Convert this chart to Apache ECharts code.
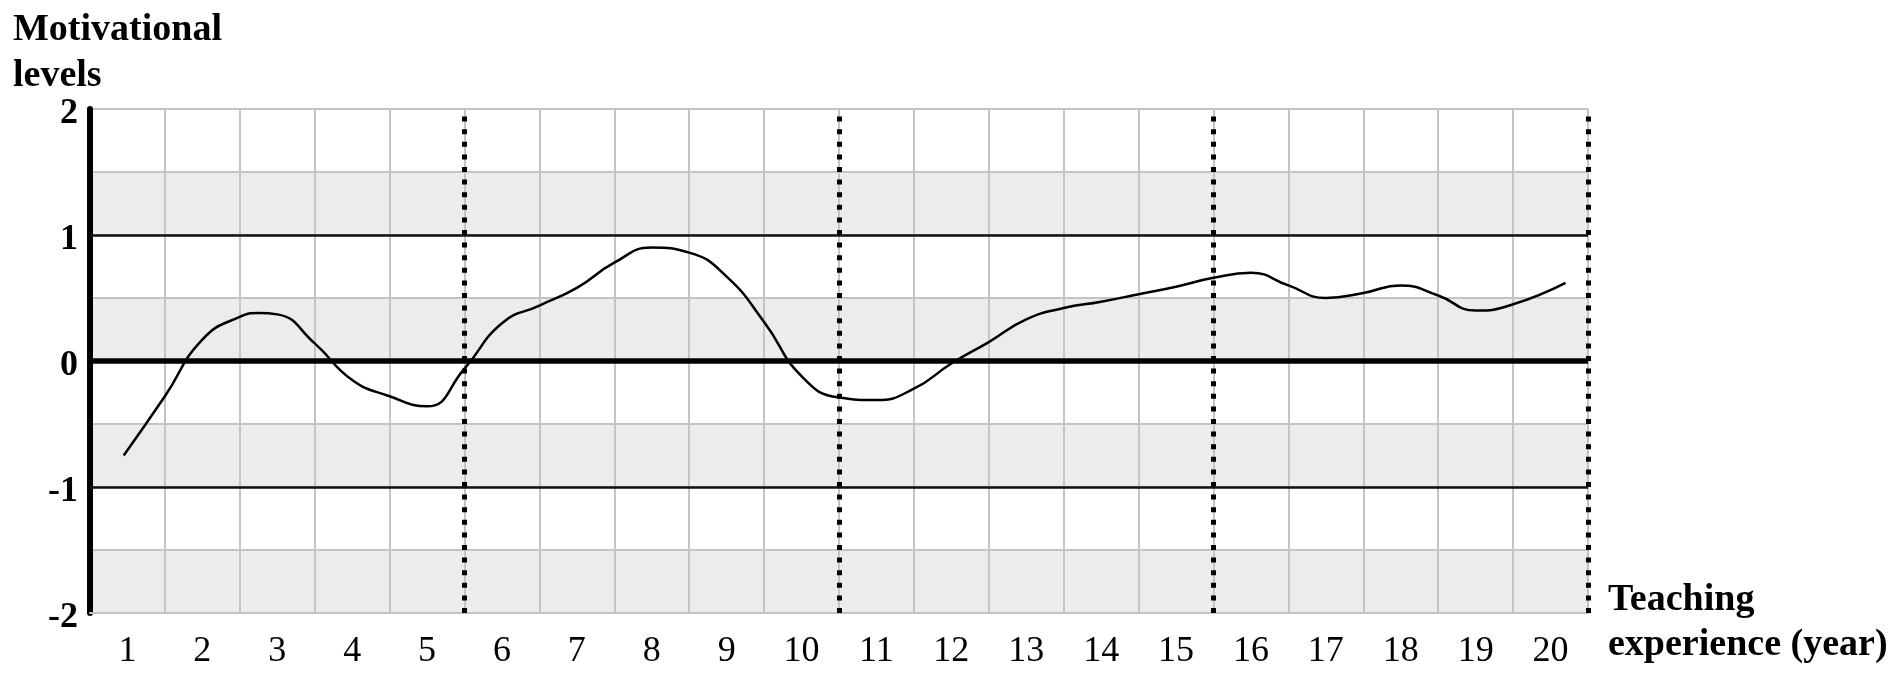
<!DOCTYPE html>
<html>
<head>
<meta charset="utf-8">
<script src="https://cdn.jsdelivr.net/npm/echarts@6/dist/echarts.min.js"></script>
<style>html,body{margin:0;padding:0;background:#fff}#c{width:1901px;height:680px}</style>
</head>
<body>
<div id="c"></div>
<script>
// Data
var years = ['1','2','3','4','5','6','7','8','9','10','11','12','13','14','15','16','17','18','19','20'];
var curveX = [0.95,1.5,2,2.5,2.75,3,3.5,4,4.5,5,5.5,6,6.5,7,7.5,8,8.5,9,9.5,10,10.5,11,11.5,12,12.5,13,13.5,14,14.5,15,15.5,16,16.5,17,17.5,18,18.5,19,19.5,20.2];
var motivation = [-0.75,-0.28,0.17,0.35,0.38,0.37,0.14,-0.15,-0.28,-0.36,-0.06,0.30,0.44,0.58,0.78,0.90,0.86,0.67,0.31,-0.12,-0.29,-0.31,-0.22,-0.02,0.15,0.33,0.42,0.47,0.53,0.59,0.66,0.70,0.60,0.50,0.54,0.60,0.52,0.40,0.45,0.62];
var phaseBoundaries = [5.5,10.5,15.5,20.5];
var yRefLines = [1,-1];
var yTickLabels = ['-2','-1','0','1','2'];
var yTitle = 'Motivational\nlevels';
var xTitle = 'Teaching\nexperience (year)';

var FONT = 'Liberation Serif';
var curve = curveX.map(function(x,i){ return [x, motivation[i]]; });

var markData = [];
phaseBoundaries.forEach(function(b){
  markData.push({xAxis:b, lineStyle:{color:'#000', width:5, type:[5,7.6], cap:'butt'}});
});
yRefLines.forEach(function(v){
  markData.push({yAxis:v, lineStyle:{color:'#111', width:2.5, type:'solid'}});
});
markData.push({yAxis:0, lineStyle:{color:'#000', width:5.5, type:'solid'}});

var chart = echarts.init(document.getElementById('c'), null, {renderer:'canvas'});
chart.setOption({
  animation:false,
  backgroundColor:'#fff',
  grid:{left:90, right:313, top:109, bottom:67, containLabel:false},
  graphic:[{
    type:'text', left:13, top:7,
    style:{text:yTitle, font:'bold 38px "'+FONT+'"', lineHeight:46, fill:'#000', textAlign:'left'}
  },{
    type:'text', left:1608, top:578,
    style:{text:xTitle, font:'bold 38px "'+FONT+'"', lineHeight:45, fill:'#000', textAlign:'left'}
  }],
  xAxis:[{
    type:'category', data:years, boundaryGap:true,
    axisLine:{show:true, onZero:false, lineStyle:{color:'#c4c4c4', width:2}},
    axisTick:{show:false},
    axisLabel:{color:'#000', fontFamily:FONT, fontSize:36, margin:21, interval:0},
    splitLine:{show:true, interval:0, lineStyle:{color:'#c4c4c4', width:2}}
  },{
    type:'value', min:0.5, max:20.5, show:false
  }],
  yAxis:{
    type:'value', min:-2, max:2, interval:0.5,
    axisLine:{show:true, onZero:false, lineStyle:{color:'#000', width:6}},
    axisTick:{show:false},
    axisLabel:{color:'#000', fontFamily:FONT, fontWeight:'bold', fontSize:36, margin:12,
      rich:{v:{fontFamily:FONT, fontWeight:'bold', fontSize:36, color:'#000', padding:[10,0,0,0]}},
      formatter:function(v){ var s = String(Math.round(v)); return (Math.abs(v - Math.round(v)) < 1e-9 && yTickLabels.indexOf(s) >= 0) ? '{v|' + s + '}' : ''; }},
    splitLine:{show:true, lineStyle:{color:'#c4c4c4', width:2}},
    splitArea:{show:true, areaStyle:{color:['#ececec','#ffffff']}}
  },
  series:[{
    type:'line', xAxisIndex:1, data:curve, smooth:0.5, symbol:'none',
    lineStyle:{color:'#000', width:2.5},
    z:5,
    markLine:{silent:true, symbol:['none','none'], label:{show:false}, animation:false, data:markData}
  }]
});
</script>
</body>
</html>
